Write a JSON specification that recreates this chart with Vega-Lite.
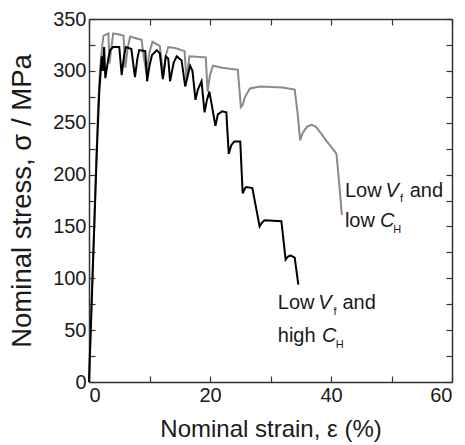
{
  "$schema": "https://vega.github.io/schema/vega-lite/v6.json",
  "width": 363,
  "height": 363,
  "autosize": {"type": "none"},
  "padding": {"left": 89, "top": 19, "right": 13, "bottom": 63},
  "background": "white",
  "config": {
    "view": {"stroke": null},
    "font": "Liberation Sans",
    "axis": {
      "grid": false,
      "domainColor": "#333333",
      "domainWidth": 1.5,
      "tickColor": "#333333",
      "tickWidth": 1.2,
      "tickSize": -6,
      "labelFont": "Liberation Sans",
      "labelFontSize": 20,
      "labelColor": "#1a1a1a",
      "titleFont": "Liberation Sans",
      "titleFontWeight": "normal",
      "titleColor": "#1a1a1a"
    }
  },
  "datasets": {
    "grey": [
      {"strain": 0, "stress": 0},
      {"strain": 1.5, "stress": 265},
      {"strain": 1.8, "stress": 300},
      {"strain": 2.0, "stress": 312},
      {"strain": 2.2, "stress": 325},
      {"strain": 2.4, "stress": 334},
      {"strain": 3.2, "stress": 336},
      {"strain": 3.4, "stress": 307},
      {"strain": 3.6, "stress": 318},
      {"strain": 4.0, "stress": 336},
      {"strain": 5.0, "stress": 335},
      {"strain": 5.7, "stress": 334},
      {"strain": 6.0, "stress": 303},
      {"strain": 6.4, "stress": 322},
      {"strain": 6.8, "stress": 333},
      {"strain": 8.0, "stress": 331},
      {"strain": 8.7, "stress": 330},
      {"strain": 9.0, "stress": 315},
      {"strain": 9.5, "stress": 298},
      {"strain": 10.0, "stress": 318},
      {"strain": 10.5, "stress": 328},
      {"strain": 11.7, "stress": 324},
      {"strain": 12.0, "stress": 310},
      {"strain": 12.3, "stress": 295},
      {"strain": 12.7, "stress": 315},
      {"strain": 13.1, "stress": 323},
      {"strain": 14.2, "stress": 322},
      {"strain": 15.8, "stress": 319},
      {"strain": 16.1, "stress": 291},
      {"strain": 16.6, "stress": 314},
      {"strain": 19.3, "stress": 313},
      {"strain": 19.6, "stress": 280},
      {"strain": 20.0, "stress": 296},
      {"strain": 20.5, "stress": 305},
      {"strain": 22.0, "stress": 303},
      {"strain": 24.6, "stress": 301},
      {"strain": 25.1, "stress": 265},
      {"strain": 25.4, "stress": 267},
      {"strain": 25.8, "stress": 275},
      {"strain": 26.6, "stress": 283},
      {"strain": 28.3, "stress": 285},
      {"strain": 32.0, "stress": 284},
      {"strain": 34.0, "stress": 282},
      {"strain": 34.5, "stress": 258},
      {"strain": 34.9, "stress": 233},
      {"strain": 35.3, "stress": 240},
      {"strain": 36.0, "stress": 246},
      {"strain": 36.8, "stress": 248},
      {"strain": 37.5, "stress": 246},
      {"strain": 38.2, "stress": 241},
      {"strain": 39.3, "stress": 232},
      {"strain": 40.4, "stress": 224},
      {"strain": 40.9, "stress": 220},
      {"strain": 41.3, "stress": 195},
      {"strain": 41.8, "stress": 161}
    ],
    "black": [
      {"strain": 0, "stress": 0},
      {"strain": 1.3, "stress": 224},
      {"strain": 1.7, "stress": 280},
      {"strain": 2.0, "stress": 305},
      {"strain": 2.1, "stress": 314},
      {"strain": 2.3, "stress": 300},
      {"strain": 2.5, "stress": 323},
      {"strain": 2.7, "stress": 293},
      {"strain": 3.2, "stress": 312},
      {"strain": 3.5, "stress": 320},
      {"strain": 4.0, "stress": 323},
      {"strain": 5.0, "stress": 323},
      {"strain": 5.4, "stress": 296},
      {"strain": 5.8, "stress": 315},
      {"strain": 6.1, "stress": 323},
      {"strain": 7.0, "stress": 321},
      {"strain": 7.6, "stress": 294},
      {"strain": 8.0, "stress": 312},
      {"strain": 8.3, "stress": 320},
      {"strain": 9.3, "stress": 319},
      {"strain": 9.6, "stress": 290},
      {"strain": 10.0, "stress": 305},
      {"strain": 10.4, "stress": 315},
      {"strain": 11.2, "stress": 320},
      {"strain": 11.7, "stress": 317},
      {"strain": 12.2, "stress": 292},
      {"strain": 12.7, "stress": 314},
      {"strain": 13.1, "stress": 312},
      {"strain": 13.4, "stress": 290},
      {"strain": 14.0, "stress": 308},
      {"strain": 14.5, "stress": 314},
      {"strain": 15.3, "stress": 310},
      {"strain": 15.9, "stress": 285},
      {"strain": 16.7, "stress": 305},
      {"strain": 17.1, "stress": 300},
      {"strain": 17.6, "stress": 272},
      {"strain": 18.0, "stress": 282},
      {"strain": 18.6, "stress": 290},
      {"strain": 19.1, "stress": 260},
      {"strain": 19.5, "stress": 272},
      {"strain": 19.9, "stress": 280},
      {"strain": 20.9, "stress": 247},
      {"strain": 21.3, "stress": 258},
      {"strain": 22.0, "stress": 261},
      {"strain": 22.7, "stress": 260},
      {"strain": 23.1, "stress": 220},
      {"strain": 23.5, "stress": 228},
      {"strain": 24.0, "stress": 232},
      {"strain": 25.0, "stress": 232},
      {"strain": 25.4, "stress": 182},
      {"strain": 25.8, "stress": 187},
      {"strain": 26.0, "stress": 188},
      {"strain": 27.0, "stress": 187},
      {"strain": 28.2, "stress": 150},
      {"strain": 28.5, "stress": 153},
      {"strain": 29.0, "stress": 156},
      {"strain": 31.8, "stress": 155},
      {"strain": 32.5, "stress": 118},
      {"strain": 32.9, "stress": 121},
      {"strain": 33.3, "stress": 122},
      {"strain": 34.0, "stress": 120},
      {"strain": 34.6, "stress": 94}
    ],
    "normalText": [
      {"text": "Low", "strain": 42.3, "stress": 178.7},
      {"text": "and", "strain": 53.0, "stress": 178.7},
      {"text": "low", "strain": 42.3, "stress": 149.8},
      {"text": "Low", "strain": 31.2, "stress": 70.1},
      {"text": "and", "strain": 41.9, "stress": 70.1},
      {"text": "high", "strain": 31.2, "stress": 38.9}
    ],
    "italicText": [
      {"text": "V", "strain": 49.0, "stress": 178.7},
      {"text": "C", "strain": 48.1, "stress": 149.8},
      {"text": "V", "strain": 37.9, "stress": 70.1},
      {"text": "C", "strain": 38.5, "stress": 38.9}
    ],
    "subText": [
      {"text": "f", "strain": 51.4, "stress": 173.2},
      {"text": "H", "strain": 50.3, "stress": 143.2},
      {"text": "f", "strain": 40.4, "stress": 64.6},
      {"text": "H", "strain": 40.8, "stress": 32.8}
    ]
  },
  "resolve": {"axis": {"x": "independent", "y": "independent"}},
  "layer": [
    {
      "data": {"name": "grey"},
      "mark": {"type": "line", "color": "#8a8a8a", "strokeWidth": 2},
      "encoding": {
        "x": {
          "field": "strain", "type": "quantitative",
          "scale": {"domain": [0, 60], "nice": false, "zero": false},
          "axis": {
            "orient": "bottom",
            "values": [0, 10, 20, 30, 40, 50, 60],
            "labelExpr": "datum.value % 20 == 0 ? datum.label : ''",
            "labelPadding": 9,
            "title": "Nominal strain, ε (%)",
            "titleFontSize": 24,
            "titlePadding": 12
          }
        },
        "y": {
          "field": "stress", "type": "quantitative",
          "scale": {"domain": [0, 350], "nice": false, "zero": false},
          "axis": {
            "orient": "left",
            "values": [0, 25, 50, 75, 100, 125, 150, 175, 200, 225, 250, 275, 300, 325, 350],
            "labelExpr": "datum.value % 50 == 0 ? datum.label : ''",
            "labelPadding": 9,
            "title": "Nominal stress, σ / MPa",
            "titleFontSize": 27.5,
            "titlePadding": 16
          }
        }
      }
    },
    {
      "data": {"name": "black"},
      "mark": {"type": "line", "color": "#000000", "strokeWidth": 2},
      "encoding": {
        "x": {
          "field": "strain", "type": "quantitative",
          "axis": {
            "orient": "top",
            "values": [0, 10, 20, 30, 40, 50, 60],
            "labels": false,
            "title": null
          }
        },
        "y": {
          "field": "stress", "type": "quantitative",
          "axis": {
            "orient": "right",
            "values": [0, 25, 50, 75, 100, 125, 150, 175, 200, 225, 250, 275, 300, 325, 350],
            "labels": false,
            "title": null
          }
        }
      }
    },
    {
      "data": {"name": "normalText"},
      "mark": {"type": "text", "align": "left", "baseline": "alphabetic", "fontSize": 20, "font": "Liberation Sans", "color": "#1a1a1a"},
      "encoding": {
        "x": {"field": "strain", "type": "quantitative", "axis": null},
        "y": {"field": "stress", "type": "quantitative", "axis": null},
        "text": {"field": "text"}
      }
    },
    {
      "data": {"name": "italicText"},
      "mark": {"type": "text", "align": "left", "baseline": "alphabetic", "fontSize": 20, "fontStyle": "italic", "font": "Liberation Sans", "color": "#1a1a1a"},
      "encoding": {
        "x": {"field": "strain", "type": "quantitative", "axis": null},
        "y": {"field": "stress", "type": "quantitative", "axis": null},
        "text": {"field": "text"}
      }
    },
    {
      "data": {"name": "subText"},
      "mark": {"type": "text", "align": "left", "baseline": "alphabetic", "fontSize": 11, "font": "Liberation Sans", "color": "#1a1a1a"},
      "encoding": {
        "x": {"field": "strain", "type": "quantitative", "axis": null},
        "y": {"field": "stress", "type": "quantitative", "axis": null},
        "text": {"field": "text"}
      }
    }
  ]
}
